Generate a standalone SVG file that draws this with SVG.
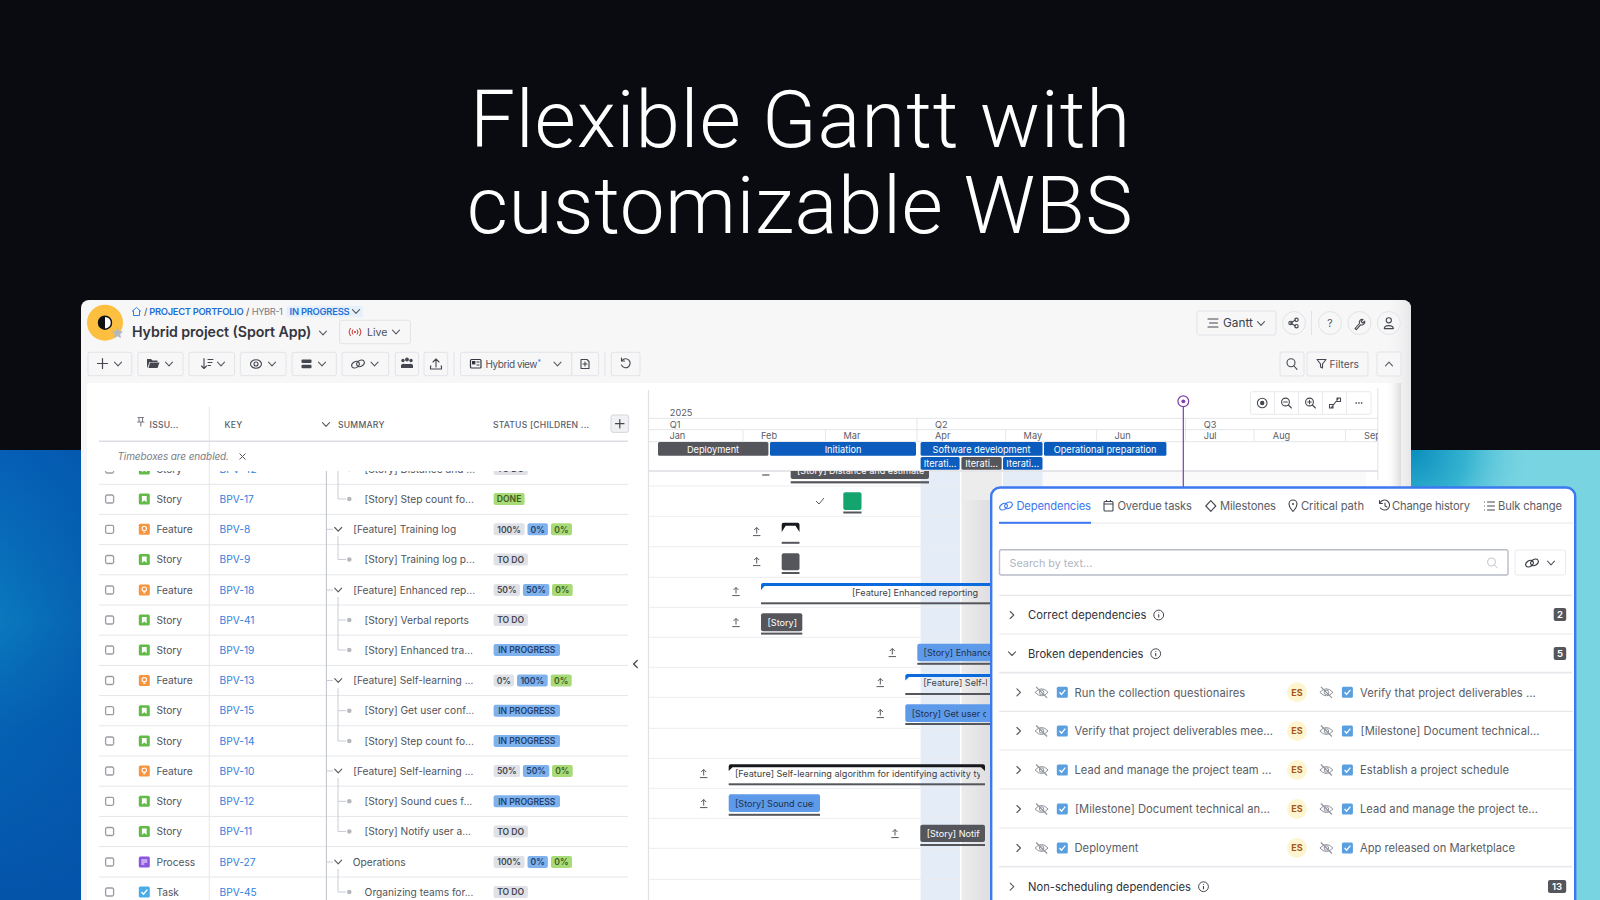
<svg xmlns="http://www.w3.org/2000/svg" width="1600" height="900" viewBox="0 0 1600 900" font-family="Inter, 'Liberation Sans', sans-serif">
<style>
text{font-family:Inter,'Liberation Sans',sans-serif}
.ic{fill:none;stroke:#44474f;stroke-width:1.1;stroke-linecap:round;stroke-linejoin:round}
.ltg{fill:none;stroke:#e4e6ea;stroke-width:1}
.btn{fill:#f7f7f8;stroke:#e1e3e7;stroke-width:1}
.h{font-size:8.6px;fill:#5a5d66;font-weight:500;letter-spacing:.25px}
.r{font-size:10.2px;fill:#50535c}
.k{font-size:10.2px;fill:#2f80e0}
.s{font-size:10.2px;fill:#50535c}
.bt{font-size:8.6px;font-weight:600;text-anchor:middle}
.g{fill:#dfe1e6}.gt{fill:#44474f}
.b{fill:#7fb2ec}.bb{fill:#1f3f6d}
.n{fill:#a9da78}.nt{fill:#3d5c22}
.m{font-size:9.2px;fill:#5a5d66}
.ph{font-size:9.2px;fill:#fff;text-anchor:middle}
.bar{font-size:9.1px;fill:#3c3f47}
.bar2{font-size:9.1px;fill:#22304a}
.bw{font-size:9.1px;fill:#fff}
.ul{fill:#55565c}
.tab{font-size:11.2px;fill:#5a5d66}
.dr{font-size:11.2px;fill:#5a5d66}
.dh{font-size:11.2px;fill:#2f323a}
.es{font-size:9px;font-weight:700;fill:#a8551c;text-anchor:middle}
.pl{fill:none;stroke:#e6e8ec;stroke-width:1.2}
.ttl{font-family:Roboto,sans-serif;font-size:80px;font-weight:300;fill:#fff;text-anchor:middle}
</style>
<defs>
<linearGradient id="lg" x1="0" y1="450" x2="0" y2="900" gradientUnits="userSpaceOnUse"><stop offset="0" stop-color="#055fb5"/><stop offset=".38" stop-color="#0a78be"/><stop offset=".62" stop-color="#0561b3"/><stop offset="1" stop-color="#0454aa"/></linearGradient>
<linearGradient id="lg2" x1="0" y1="0" x2="81" y2="0" gradientUnits="userSpaceOnUse"><stop offset="0" stop-color="#0454aa" stop-opacity="0"/><stop offset="1" stop-color="#0454aa" stop-opacity=".55"/></linearGradient>
<radialGradient id="rg" cx="1411" cy="450" r="125" gradientUnits="userSpaceOnUse"><stop offset="0" stop-color="#0a8dbd"/><stop offset=".45" stop-color="#35b3d0"/><stop offset="1" stop-color="#79d4e2" stop-opacity="0"/></radialGradient>
<linearGradient id="sh" x1="0" y1="0" x2="1" y2="0"><stop offset="0" stop-color="#fff" stop-opacity="0"/><stop offset="1" stop-color="#dcdcde"/></linearGradient>
<linearGradient id="sh2" x1="0" y1="0" x2="1" y2="0"><stop offset="0" stop-color="#ececed"/><stop offset="1" stop-color="#dedee0"/></linearGradient>
<linearGradient id="sh3" x1="0" y1="0" x2="1" y2="0"><stop offset="0" stop-color="#f7f7f8" stop-opacity="0"/><stop offset="1" stop-color="#e6e6e8"/></linearGradient>
<clipPath id="cr"><rect x="88" y="471" width="555" height="429"/></clipPath>
<clipPath id="cg"><rect x="650" y="471" width="730" height="429"/></clipPath>
<clipPath id="chd"><rect x="650" y="380" width="728" height="100"/></clipPath>
<clipPath id="c1"><rect x="917" y="640" width="73" height="25"/></clipPath>
<clipPath id="c2"><rect x="905" y="670" width="82" height="25"/></clipPath>
<clipPath id="c3"><rect x="905" y="700" width="81" height="25"/></clipPath>
<clipPath id="c4"><rect x="729" y="762" width="251" height="24"/></clipPath>
<clipPath id="c5"><rect x="729" y="792" width="85" height="24"/></clipPath>
<clipPath id="c6"><rect x="920" y="822" width="60" height="24"/></clipPath>
<clipPath id="c7"><rect x="791" y="471" width="138" height="12"/></clipPath>
<path id="ch" d="M-3.5-1.8L0 1.8L3.5-1.8" fill="none" stroke="#55585f" stroke-width="1.1" stroke-linecap="round" stroke-linejoin="round"/>
<path id="cr2" d="M-1.8-3.5L1.8 0L-1.8 3.5" fill="none" stroke="#55585f" stroke-width="1.1" stroke-linecap="round" stroke-linejoin="round"/>
<path id="cl" d="M1.8-3.5L-1.8 0L1.8 3.5" fill="none" stroke="#44474f" stroke-width="1.3" stroke-linecap="round" stroke-linejoin="round"/>
<rect id="cb" x="-4" y="-4" width="8" height="8" rx="1.5" fill="#fff" stroke="#9a9da6" stroke-width="1.3"/>
<g id="ist"><rect x="-5.5" y="-5.5" width="11" height="11" rx="1.5" fill="#62bb46"/><path d="M-2.4-3h4.8v6.2L0 1.6l-2.4 1.6z" fill="#fff"/></g>
<g id="ife"><rect x="-5.5" y="-5.5" width="11" height="11" rx="1.5" fill="#f7953f"/><circle cy="-.8" r="2.2" fill="none" stroke="#fff" stroke-width="1.1"/><path d="M-1 2.8h2" stroke="#fff" stroke-width="1.1"/></g>
<g id="ipr"><rect x="-5.5" y="-5.5" width="11" height="11" rx="1.5" fill="#8b55e0"/><path d="M-3-2h6M-3 0h6M-3 2h3" stroke="#fff" stroke-width="1"/></g>
<g id="ita"><rect x="-5.5" y="-5.5" width="11" height="11" rx="1.5" fill="#4bade8"/><path d="M-2.8 0L-.8 2.2L3-2.4" fill="none" stroke="#fff" stroke-width="1.4"/></g>
<circle id="dot" r="2.3" fill="#b5b8bf"/>
<path id="up" d="M0-3.5V2.5M-2.5-1L0-3.5L2.5-1M-3.7 4.6H3.7" fill="none" stroke="#55585f" stroke-width="1"/>
<g id="eye"><path d="M-6.5 0Q0-7 6.5 0Q0 7-6.5 0z" fill="none" stroke="#8f929b" stroke-width="1"/><circle r="2.2" fill="none" stroke="#8f929b" stroke-width="1"/><path d="M-5.5-5.5L5.5 5.5" stroke="#8f929b" stroke-width="1.2"/></g>
<g id="chk"><rect x="-5.5" y="-5.5" width="11" height="11" rx="1.5" fill="#5a9fe0"/><path d="M-2.8 0L-.8 2.2L3-2.4" fill="none" stroke="#fff" stroke-width="1.3"/></g>
<g id="inf"><circle r="4.9" fill="none" stroke="#44474f" stroke-width="1"/><path d="M0-.8V2.6M0-2.6v.6" stroke="#44474f" stroke-width="1.1"/></g>
<g id="lnk"><ellipse cx="-2.5" cy=".7" rx="4.1" ry="2.9" transform="rotate(-35 -2.5 .7)" fill="none" stroke="currentColor" stroke-width="1.1"/><ellipse cx="2.5" cy="-.7" rx="4.1" ry="2.9" transform="rotate(-35 2.5 -.7)" fill="none" stroke="currentColor" stroke-width="1.1"/></g>
</defs>

<g id="background">
<rect width="1600" height="900" fill="#090b11"/>
<rect y="450" width="81" height="450" fill="url(#lg)"/>
<rect y="450" width="81" height="450" fill="url(#lg2)"/>
<rect x="1411" y="450" width="189" height="450" fill="#79d4e2"/>
<rect x="1411" y="450" width="189" height="200" fill="url(#rg)"/>
</g>

<g id="title">
<text class="ttl" x="800.5" y="147" letter-spacing=".85">Flexible Gantt with</text>
<text class="ttl" x="800" y="232.5" letter-spacing=".55">customizable WBS</text>
</g>

<g id="window">
<path d="M81 900V308a8 8 0 0 1 8-8H1403a8 8 0 0 1 8 8V900z" fill="#f7f7f8"/>
<path d="M1385 300H1403a8 8 0 0 1 8 8V900H1385z" fill="url(#sh3)"/>
<rect x="87" y="383" width="1314" height="530" rx="3" fill="#fff"/>
<rect x="1385" y="383" width="16" height="517" fill="url(#sh)"/>
</g>

<g id="header">
<circle cx="105" cy="322.7" r="18" fill="#fcbf3f"/>
<circle cx="105" cy="322.7" r="6.5" fill="#fff" stroke="#111" stroke-width="1.4"/>
<path d="M105 316.2a6.5 6.5 0 0 0 0 13z" fill="#111"/>
<path d="M117.5 327.5l1.7 3.6 3.9.5-2.9 2.7.8 3.9-3.5-2-3.5 2 .8-3.9-2.9-2.7 3.9-.5z" fill="#b5b8bf"/>
<path d="M132 311.5l4.5-4 4.5 4M133.5 310.5v5h6v-5" fill="none" stroke="#2f80e0" stroke-width="1"/>
<text x="144" y="314.5" font-size="9.4" fill="#44474f">/</text>
<text x="149.3" y="314.5" font-size="9.4" font-weight="600" fill="#1d6fd6" textLength="94.3">PROJECT PORTFOLIO</text>
<text x="246" y="314.5" font-size="9.4" fill="#44474f">/</text>
<text x="251.8" y="314.5" font-size="9.4" fill="#7a7d86" textLength="31">HYBR-1</text>
<rect x="286.4" y="305.7" width="76.5" height="11.6" rx="2" fill="#e6f0fb"/>
<text x="289.6" y="314.5" font-size="9.4" font-weight="600" fill="#1d6fd6" textLength="60">IN PROGRESS</text>
<use href="#ch" x="356" y="311.5" style="stroke:#1d6fd6"/>
<text x="132" y="337.3" font-size="14.2" font-weight="600" fill="#33363e" textLength="179.4">Hybrid project (Sport App)</text>
<use href="#ch" x="323" y="333"/>
<rect class="btn" x="339.6" y="320.3" width="70.8" height="23.4" rx="2"/>
<path d="M353 329.5q-2 2.5 0 5M357 329.5q2 2.5 0 5M350.5 328q-3 4 0 8M359.5 328q3 4 0 8" fill="none" stroke="#c8332f" stroke-width="1"/>
<circle cx="355" cy="332" r="1" fill="#c8332f"/>
<text x="367" y="336" font-size="10.6" fill="#50535c">Live</text>
<use href="#ch" x="396" y="332"/>
<rect class="btn" x="1197" y="311" width="79" height="24" rx="2"/>
<path class="ic" d="M1208 319h10M1209.5 323h8M1208 327h10"/>
<text x="1223" y="327" font-size="11.8" fill="#3c3f47">Gantt</text>
<use href="#ch" x="1261" y="323.5"/>
<circle class="btn" cx="1294" cy="323" r="11.5"/>
<path class="ic" d="M1290.5 323l5-3M1290.5 323l5 3"/><circle class="ic" cx="1290.5" cy="323" r="1.7"/><circle class="ic" cx="1296.5" cy="319.8" r="1.7"/><circle class="ic" cx="1296.5" cy="326.2" r="1.7"/>
<path d="M1311.5 311v24" stroke="#e1e3e7"/>
<circle class="btn" cx="1330" cy="323" r="11.5"/><text x="1330" y="327" font-size="10.5" fill="#50535c" text-anchor="middle">?</text>
<circle class="btn" cx="1359.4" cy="323" r="11.5"/><path class="ic" d="M1355 328.5l4.5-5a3 3 0 0 1 3.5-4l-1.8 2 1.5 1.5 2-1.8a3 3 0 0 1-4 3.5l-4.3 5z"/>
<circle class="btn" cx="1388.8" cy="323" r="11.5"/><circle class="ic" cx="1388.8" cy="320.3" r="2.6"/><path class="ic" d="M1384.3 328.6q0-3 4.5-3t4.5 3z"/>
</g>

<g id="toolbar">
<rect class="btn" x="88" y="352.3" width="43.8" height="23.4" rx="2"/><path class="ic" d="M102.5 358.5v10M97.5 363.5h10" style="stroke-width:1.2"/><use href="#ch" x="118" y="364"/>
<rect class="btn" x="137.9" y="352.3" width="45.1" height="23.4" rx="2"/><path d="M147 359h4l1.5 1.5h5v1.5h-8l-2 5.5h-.5z" fill="#44474f"/><path d="M150 362.5h9.5l-2 5.5h-9z" fill="#44474f"/><use href="#ch" x="169" y="364"/>
<rect class="btn" x="189" y="352.3" width="45.6" height="23.4" rx="2"/><path class="ic" d="M204 358.5v10M201.5 366l2.5 2.5 2.5-2.5M208 359.5h5M208 362.5h4M208 365.5h2.5"/><use href="#ch" x="221" y="364"/>
<rect class="btn" x="240.4" y="352.3" width="45.6" height="23.4" rx="2"/><ellipse class="ic" cx="256" cy="364" rx="5.5" ry="4.2"/><circle class="ic" cx="256" cy="364" r="2"/><use href="#ch" x="272" y="364"/>
<rect class="btn" x="292" y="352.3" width="44.4" height="23.4" rx="2"/><rect x="301.5" y="359.5" width="10" height="3.6" rx="1" fill="#44474f"/><rect x="301.5" y="364.7" width="10" height="3.6" rx="1" fill="#44474f"/><use href="#ch" x="322" y="364"/>
<rect class="btn" x="342" y="352.3" width="46.6" height="23.4" rx="2"/><use href="#lnk" x="358" y="364" color="#44474f"/><use href="#ch" x="374.5" y="364"/>
<rect class="btn" x="395.4" y="352.3" width="23.2" height="23.4" rx="2"/><circle cx="403" cy="360.5" r="1.7" fill="#44474f"/><circle cx="407" cy="359.5" r="1.9" fill="#44474f"/><circle cx="411" cy="360.5" r="1.7" fill="#44474f"/><path d="M401 368v-3q2-2 4-1h4q2-1 4 1v3z" fill="#44474f"/>
<rect class="btn" x="424" y="352.3" width="23.7" height="23.4" rx="2"/><path class="ic" d="M436 367v-7.5M433 362l3-3 3 3M431 366h-.5v3h11v-3h-.5"/>
<path d="M454 352v24M605 352v24" stroke="#e1e3e7"/>
<rect class="btn" x="460.4" y="352.3" width="111.4" height="23.4" rx="2"/>
<rect x="470.5" y="359.5" width="10.5" height="8.5" rx="1" fill="none" stroke="#33363e" stroke-width="1.2"/><rect x="472" y="361" width="3.4" height="3.4" fill="#33363e"/><path d="M476.5 362h3M476.5 365h3" stroke="#33363e"/>
<text x="485.5" y="367.5" font-size="10" fill="#50535c" textLength="52">Hybrid view</text>
<text x="537.5" y="365" font-size="7" fill="#2f80e0">*</text>
<use href="#ch" x="557.5" y="364"/>
<rect class="btn" x="571.8" y="352.3" width="26.8" height="23.4" rx="2"/><path class="ic" d="M581 359.5h6l2 2v7h-8z"/><path class="ic" d="M585 362v4M583 364h4"/>
<rect class="btn" x="611.4" y="352.3" width="28.6" height="23.4" rx="2"/><path class="ic" d="M622 360.5a4.5 4.5 0 1 1-.5 4.5M621.5 358v3h3"/>
<rect class="btn" x="1280" y="352" width="24" height="24" rx="2"/><circle class="ic" cx="1291" cy="362.8" r="4"/><path class="ic" d="M1294 366l3 3.4"/>
<rect class="btn" x="1307" y="352" width="61" height="24" rx="2"/><path class="ic" d="M1317 359.5h9l-3.5 4.5v4l-2 -1v-3z"/><text x="1329.5" y="367.5" font-size="10.2" fill="#50535c">Filters</text>
<rect class="btn" x="1377" y="352" width="24" height="24" rx="2"/><use href="#ch" x="1389" y="364" transform="rotate(180 1389 364)"/>
</g>

<g id="table-head">
<path class="ic" d="M138 417.5h5.5M139 417.5v4.5h3.5v-4.5M137.5 422h6.5M140.8 422v4" style="stroke:#7a7d86"/>
<text class="h" x="149.6" y="427.6">ISSU...</text>
<path d="M209.3 407v493" stroke="#e4e6ea"/>
<text class="h" x="224.6" y="427.6">KEY</text>
<use href="#ch" x="326" y="424.5"/>
<text class="h" x="337.9" y="427.6">SUMMARY</text>
<text class="h" x="492.9" y="427.6" textLength="96.4">STATUS [CHILDREN ...</text>
<rect x="611" y="415" width="17.6" height="17.4" rx="2" fill="#f0f1f3" stroke="#d5d7dc"/>
<path class="ic" d="M619.8 419.5v8.5M615.5 423.7h8.5" style="stroke-width:1.2"/>
<path d="M99 441.3H628" stroke="#dcdee3" stroke-width="1.4"/>
<text x="117.5" y="460" font-size="10" font-style="italic" fill="#7a7d86" textLength="111.5">Timeboxes are enabled.</text>
<path d="M239.5 453.5l6 6M245.5 453.5l-6 6" stroke="#55585f" stroke-width="1"/>
<use href="#cl" x="635.4" y="664"/>
</g>

<g id="rows" clip-path="url(#cr)">
<path class="ltg" d="M99 484.3H628M99 514.4H628M99 544.6H628M99 574.8H628M99 605H628M99 635.2H628M99 665.4H628M99 695.6H628M99 725.8H628M99 756H628M99 786.2H628M99 816.4H628M99 846.6H628M99 877H628"/>
<path d="M326.4 470V900" stroke="#c4c7ce" stroke-width="1.1"/>
<g id="connectors" fill="none" stroke="#c9ccd2" stroke-width="1">
<path d="M338 470V499H346M338 536V559.5H346M338 597V650H346M338 620H346M338 688V741H346M338 710.7H346M338 778V831.5H346M338 801.3H346M338 869V892H346M338 468.7H346"/>
<path d="M326.4 529.3H333M326.4 590H333M326.4 680.5H333M326.4 771H333M326.4 862H333"/>
</g>

<g id="bpv-42" transform="translate(0,469)"><use href="#cb" x="109.6"/><use href="#ist" x="144.3"/><text class="r" x="156.4" y="3.7">Story</text><text class="k" x="219.6" y="3.7">BPV-42</text><use href="#dot" x="349.3"/><text class="s" x="364.6" y="3.7">[Story] Distance and ...</text><rect class="g" x="493.6" y="-6" width="34.3" height="12" rx="2"/><text class="bt gt" x="510.7" y="3.2">TO DO</text></g>

<g id="bpv-17" transform="translate(0,499)"><use href="#cb" x="109.6"/><use href="#ist" x="144.3"/><text class="r" x="156.4" y="3.7">Story</text><text class="k" x="219.6" y="3.7">BPV-17</text><use href="#dot" x="349.3"/><text class="s" x="364.6" y="3.7">[Story] Step count fo...</text><rect class="n" x="493.6" y="-6" width="31" height="12" rx="2"/><text class="bt nt" x="509.1" y="3.2">DONE</text></g>

<g id="bpv-8" transform="translate(0,529.3)"><use href="#cb" x="109.6"/><use href="#ife" x="144.3"/><text class="r" x="156.4" y="3.7">Feature</text><text class="k" x="219.6" y="3.7">BPV-8</text><use href="#ch" x="338.2"/><text class="s" x="353.2" y="3.7">[Feature] Training log</text><rect class="g" x="493.6" y="-6" width="31" height="12" rx="2"/><text class="bt gt" x="509.1" y="3.2">100%</text><rect class="b" x="527.5" y="-6" width="20.4" height="12" rx="2"/><text class="bt bb" x="537.7" y="3.2">0%</text><rect class="n" x="551" y="-6" width="21" height="12" rx="2"/><text class="bt nt" x="561.5" y="3.2">0%</text></g>

<g id="bpv-9" transform="translate(0,559.5)"><use href="#cb" x="109.6"/><use href="#ist" x="144.3"/><text class="r" x="156.4" y="3.7">Story</text><text class="k" x="219.6" y="3.7">BPV-9</text><use href="#dot" x="349.3"/><text class="s" x="364.6" y="3.7">[Story] Training log p...</text><rect class="g" x="493.6" y="-6" width="34.3" height="12" rx="2"/><text class="bt gt" x="510.7" y="3.2">TO DO</text></g>

<g id="bpv-18" transform="translate(0,590)"><use href="#cb" x="109.6"/><use href="#ife" x="144.3"/><text class="r" x="156.4" y="3.7">Feature</text><text class="k" x="219.6" y="3.7">BPV-18</text><use href="#ch" x="338.2"/><text class="s" x="353.2" y="3.7">[Feature] Enhanced rep...</text><rect class="g" x="493.6" y="-6" width="26.4" height="12" rx="2"/><text class="bt gt" x="506.8" y="3.2">50%</text><rect class="b" x="522.9" y="-6" width="26.4" height="12" rx="2"/><text class="bt bb" x="536.1" y="3.2">50%</text><rect class="n" x="552" y="-6" width="20.7" height="12" rx="2"/><text class="bt nt" x="562.3" y="3.2">0%</text></g>

<g id="bpv-41" transform="translate(0,620)"><use href="#cb" x="109.6"/><use href="#ist" x="144.3"/><text class="r" x="156.4" y="3.7">Story</text><text class="k" x="219.6" y="3.7">BPV-41</text><use href="#dot" x="349.3"/><text class="s" x="364.6" y="3.7">[Story] Verbal reports</text><rect class="g" x="493.6" y="-6" width="34.3" height="12" rx="2"/><text class="bt gt" x="510.7" y="3.2">TO DO</text></g>

<g id="bpv-19" transform="translate(0,650)"><use href="#cb" x="109.6"/><use href="#ist" x="144.3"/><text class="r" x="156.4" y="3.7">Story</text><text class="k" x="219.6" y="3.7">BPV-19</text><use href="#dot" x="349.3"/><text class="s" x="364.6" y="3.7">[Story] Enhanced tra...</text><rect class="b" x="493.6" y="-6" width="66.4" height="12" rx="2"/><text class="bt bb" x="526.8" y="3.2">IN PROGRESS</text></g>

<g id="bpv-13" transform="translate(0,680.5)"><use href="#cb" x="109.6"/><use href="#ife" x="144.3"/><text class="r" x="156.4" y="3.7">Feature</text><text class="k" x="219.6" y="3.7">BPV-13</text><use href="#ch" x="338.2"/><text class="s" x="353.2" y="3.7">[Feature] Self-learning ...</text><rect class="g" x="493.6" y="-6" width="20.4" height="12" rx="2"/><text class="bt gt" x="503.8" y="3.2">0%</text><rect class="b" x="517" y="-6" width="30.7" height="12" rx="2"/><text class="bt bb" x="532.3" y="3.2">100%</text><rect class="n" x="550.7" y="-6" width="21" height="12" rx="2"/><text class="bt nt" x="561.2" y="3.2">0%</text></g>

<g id="bpv-15" transform="translate(0,710.7)"><use href="#cb" x="109.6"/><use href="#ist" x="144.3"/><text class="r" x="156.4" y="3.7">Story</text><text class="k" x="219.6" y="3.7">BPV-15</text><use href="#dot" x="349.3"/><text class="s" x="364.6" y="3.7">[Story] Get user conf...</text><rect class="b" x="493.6" y="-6" width="66.4" height="12" rx="2"/><text class="bt bb" x="526.8" y="3.2">IN PROGRESS</text></g>

<g id="bpv-14" transform="translate(0,741)"><use href="#cb" x="109.6"/><use href="#ist" x="144.3"/><text class="r" x="156.4" y="3.7">Story</text><text class="k" x="219.6" y="3.7">BPV-14</text><use href="#dot" x="349.3"/><text class="s" x="364.6" y="3.7">[Story] Step count fo...</text><rect class="b" x="493.6" y="-6" width="66.4" height="12" rx="2"/><text class="bt bb" x="526.8" y="3.2">IN PROGRESS</text></g>

<g id="bpv-10" transform="translate(0,771)"><use href="#cb" x="109.6"/><use href="#ife" x="144.3"/><text class="r" x="156.4" y="3.7">Feature</text><text class="k" x="219.6" y="3.7">BPV-10</text><use href="#ch" x="338.2"/><text class="s" x="353.2" y="3.7">[Feature] Self-learning ...</text><rect class="g" x="493.6" y="-6" width="26.4" height="12" rx="2"/><text class="bt gt" x="506.8" y="3.2">50%</text><rect class="b" x="522.9" y="-6" width="26.4" height="12" rx="2"/><text class="bt bb" x="536.1" y="3.2">50%</text><rect class="n" x="552" y="-6" width="20.7" height="12" rx="2"/><text class="bt nt" x="562.3" y="3.2">0%</text></g>

<g id="bpv-12" transform="translate(0,801.3)"><use href="#cb" x="109.6"/><use href="#ist" x="144.3"/><text class="r" x="156.4" y="3.7">Story</text><text class="k" x="219.6" y="3.7">BPV-12</text><use href="#dot" x="349.3"/><text class="s" x="364.6" y="3.7">[Story] Sound cues f...</text><rect class="b" x="493.6" y="-6" width="66.4" height="12" rx="2"/><text class="bt bb" x="526.8" y="3.2">IN PROGRESS</text></g>

<g id="bpv-11" transform="translate(0,831.5)"><use href="#cb" x="109.6"/><use href="#ist" x="144.3"/><text class="r" x="156.4" y="3.7">Story</text><text class="k" x="219.6" y="3.7">BPV-11</text><use href="#dot" x="349.3"/><text class="s" x="364.6" y="3.7">[Story] Notify user a...</text><rect class="g" x="493.6" y="-6" width="34.3" height="12" rx="2"/><text class="bt gt" x="510.7" y="3.2">TO DO</text></g>

<g id="bpv-27" transform="translate(0,862)"><use href="#cb" x="109.6"/><use href="#ipr" x="144.3"/><text class="r" x="156.4" y="3.7">Process</text><text class="k" x="219.6" y="3.7">BPV-27</text><use href="#ch" x="338.2"/><text class="s" x="352.8" y="3.7">Operations</text><rect class="g" x="493.6" y="-6" width="31" height="12" rx="2"/><text class="bt gt" x="509.1" y="3.2">100%</text><rect class="b" x="527.5" y="-6" width="20.4" height="12" rx="2"/><text class="bt bb" x="537.7" y="3.2">0%</text><rect class="n" x="551" y="-6" width="21" height="12" rx="2"/><text class="bt nt" x="561.5" y="3.2">0%</text></g>

<g id="bpv-45" transform="translate(0,892)"><use href="#cb" x="109.6"/><use href="#ita" x="144.3"/><text class="r" x="156.4" y="3.7">Task</text><text class="k" x="219.6" y="3.7">BPV-45</text><use href="#dot" x="349.3"/><text class="s" x="364.6" y="3.7">Organizing teams for...</text><rect class="g" x="493.6" y="-6" width="34.3" height="12" rx="2"/><text class="bt gt" x="510.7" y="3.2">TO DO</text></g>
</g>

<g id="gantt-head">
<path d="M648.5 390V900" stroke="#dfe1e5" stroke-width="1.2"/>
<path d="M1377.8 388V480" stroke="#e4e6ea" stroke-width="1.2"/>
<path d="M649 418.3H1378M649 429.7H1378M649 441.7H1378" stroke="#e4e6ea"/>
<path d="M743 430V441M825.6 430V441M917 418V441M1005.7 430V441M1096.7 430V441M1185.6 418V441M1254 430V441M1345.5 430V441" stroke="#e4e6ea"/>
<g clip-path="url(#chd)">
<text class="m" x="669.8" y="416.2">2025</text>
<text class="m" x="669.8" y="427.5">Q1</text><text class="m" x="935" y="427.5">Q2</text><text class="m" x="1203.7" y="427.5">Q3</text>
<text class="m" x="669.4" y="438.9">Jan</text><text class="m" x="761" y="438.9">Feb</text><text class="m" x="843.5" y="438.9">Mar</text><text class="m" x="935" y="438.9">Apr</text><text class="m" x="1023.6" y="438.9">May</text><text class="m" x="1114.6" y="438.9">Jun</text><text class="m" x="1203.7" y="438.9">Jul</text><text class="m" x="1272.8" y="438.9">Aug</text><text class="m" x="1364" y="438.9">Sep</text>
</g>
<rect x="658" y="442" width="110.4" height="13.7" rx="1.5" fill="#55565c"/><text class="ph" x="713" y="452.7">Deployment</text>
<rect x="770" y="442" width="146" height="13.7" rx="1.5" fill="#0b5cbc"/><text class="ph" x="843" y="452.7">Initiation</text>
<rect x="920.6" y="442" width="121.9" height="13.7" rx="1.5" fill="#0b5cbc"/><text class="ph" x="981.5" y="452.7">Software development</text>
<rect x="1044" y="442" width="122.4" height="13.7" rx="1.5" fill="#0b5cbc"/><text class="ph" x="1105" y="452.7">Operational preparation</text>
<rect x="920.6" y="457" width="39" height="12.7" rx="1.5" fill="#0b5cbc"/><text class="ph" x="940" y="466.8">Iterati...</text>
<rect x="961.4" y="457" width="40.3" height="12.7" rx="1.5" fill="#55565c"/><text class="ph" x="981.5" y="466.8">Iterati...</text>
<rect x="1003" y="457" width="39.5" height="12.7" rx="1.5" fill="#0b5cbc"/><text class="ph" x="1022.7" y="466.8">Iterati...</text>
<path d="M649 471H1378" stroke="#dcdee3" stroke-width="1.6"/>
</g>

<g id="gantt-body">
<rect x="1042.5" y="472" width="323.5" height="30" fill="#fafafa"/>
<rect x="920.6" y="472" width="39.4" height="428" fill="#e4ecf7"/>
<rect x="961.4" y="472" width="40.3" height="30" fill="#ececed"/>
<rect x="961.4" y="500" width="30" height="400" fill="url(#sh2)"/>
<rect x="1003" y="472" width="39.5" height="30" fill="#e4ecf7"/>
<path class="ltg" d="M649 486H960M649 516.3H960M649 546.7H960M649 577.3H960M649 607.3H960M649 637.3H960M649 667.3H960M649 697.3H960M649 728.3H960M649 758.3H960M649 788.3H960M649 818.3H960M649 848.3H960M649 879.3H960" style="stroke:#ecedf0"/>
<g clip-path="url(#cg)">
<path d="M762 475h7.5" stroke="#55585f" stroke-width="1.2"/>
<rect x="790.7" y="461" width="138.3" height="18" rx="2" fill="#55565c"/>
<text class="bw" x="797" y="474" clip-path="url(#c7)">[Story] Distance and estimate</text>
<rect class="ul" x="790.7" y="481.2" width="138.3" height="2.2"/>
<path d="M816 501l3 3 5-6" fill="none" stroke="#55585f" stroke-width="1"/>
<rect x="843.3" y="492.3" width="18.2" height="17.7" rx="2" fill="#14a56f"/><rect class="ul" x="843.3" y="511.5" width="18.2" height="2"/>
<use href="#up" x="756.7" y="531"/>
<path d="M781.7 532V524.7a2 2 0 0 1 2-2H797.5a2 2 0 0 1 2 2V532L795.5 525.8H785.7z" fill="#17181c"/><rect class="ul" x="781.7" y="541.8" width="17.8" height="2"/>
<use href="#up" x="756.7" y="561"/>
<rect x="781.7" y="553.3" width="17.8" height="17" rx="2" fill="#55565c"/><rect class="ul" x="781.7" y="572" width="17.8" height="2"/>
<use href="#up" x="736" y="591"/>
<path d="M761 590V585a2 2 0 0 1 2-2H991V586H764.5z" fill="#0b6bdc"/>
<text class="bar" x="852" y="596">[Feature] Enhanced reporting</text>
<rect class="ul" x="761" y="602.3" width="230" height="2"/>
<use href="#up" x="736" y="622"/>
<rect x="761" y="613.3" width="41.3" height="18" rx="2" fill="#55565c"/><text class="bw" x="767.5" y="626">[Story]</text><rect class="ul" x="761" y="632.6" width="41.3" height="2"/>
<use href="#up" x="892.3" y="652"/>
<rect x="917.3" y="643.7" width="74" height="17.6" rx="2" fill="#5d9bea"/><text class="bar2" x="923.6" y="656" clip-path="url(#c1)">[Story] Enhanced</text><rect class="ul" x="917.3" y="662.8" width="74" height="2"/>
<use href="#up" x="880.3" y="682"/>
<path d="M905.3 680.5V676a2 2 0 0 1 2-2H991V677H909z" fill="#0b6bdc"/>
<text class="bar" x="923.3" y="686" clip-path="url(#c2)">[Feature] Self-learning</text><rect class="ul" x="905.3" y="693" width="86" height="2"/>
<use href="#up" x="880.3" y="713"/>
<rect x="905.3" y="704.3" width="86" height="17.7" rx="2" fill="#5d9bea"/><text class="bar2" x="911.7" y="717" clip-path="url(#c3)">[Story] Get user conf</text><rect class="ul" x="905.3" y="723" width="86" height="2"/>
<use href="#up" x="703.7" y="773"/>
<path d="M728.7 771V766.3a2 2 0 0 1 2-2H983a2 2 0 0 1 2 2V771L981 767.3H732.5z" fill="#17181c"/>
<text class="bar" x="735" y="777" clip-path="url(#c4)">[Feature] Self-learning algorithm for identifying activity types</text><rect class="ul" x="728.7" y="783.3" width="256.3" height="2"/>
<use href="#up" x="703.7" y="803"/>
<rect x="728.7" y="794.3" width="91.3" height="17.7" rx="2" fill="#5d9bea"/><text class="bar2" x="735" y="807" clip-path="url(#c5)">[Story] Sound cues for</text><rect class="ul" x="728.7" y="813.8" width="91.3" height="2"/>
<use href="#up" x="895" y="833"/>
<rect x="920.3" y="824.7" width="64.7" height="17.3" rx="2" fill="#55565c"/><text class="bw" x="926.7" y="837" clip-path="url(#c6)">[Story] Notify user</text><rect class="ul" x="920.3" y="844" width="64.7" height="2"/>
</g>
<path d="M1183.3 407V487" stroke="#7d3fa8" stroke-width="1.2"/>
<circle cx="1183.3" cy="401.3" r="5.4" fill="#fff" stroke="#7d3fa8" stroke-width="1.2"/><circle cx="1183.3" cy="401.3" r="1.9" fill="#7d3fa8"/>
<g id="zoom-controls">
<rect x="1250.4" y="391.7" width="120.6" height="22.6" rx="2" fill="#fff" stroke="#e8e9ec"/>
<path d="M1274.5 392V414M1298.5 392V414M1322.5 392V414M1346.5 392V414" stroke="#e8e9ec"/>
<circle class="ic" cx="1262.2" cy="403" r="4.8"/><circle cx="1262.2" cy="403" r="2.2" fill="#44474f"/>
<circle class="ic" cx="1285.5" cy="402" r="3.9"/><path class="ic" d="M1288.4 405l3 3M1283.7 402h3.6"/>
<circle class="ic" cx="1309.5" cy="402" r="3.9"/><path class="ic" d="M1312.4 405l3 3M1307.7 402h3.6M1309.5 400.2v3.6"/>
<path class="ic" d="M1331 408l7-9M1329.5 404.5h3.5v3.5h-3.5zM1337 398h3.5v3.5h-3.5z"/>
<path d="M1355.5 403h1.4M1358.2 403h1.4M1360.9 403h1.4" stroke="#44474f" stroke-width="1.4"/>
</g>
</g>

<g id="dependencies-panel">
<rect x="991.2" y="487.5" width="584" height="450" rx="9" fill="#fff" stroke="#3c78f0" stroke-width="2.4"/>
<g id="tabs">
<use href="#lnk" x="1006" y="506" color="#3c78f0"/>
<text class="tab" x="1016.4" y="510" style="fill:#3c78f0" textLength="74.6">Dependencies</text>
<rect x="1104" y="501.5" width="9" height="9.5" rx="1" fill="none" stroke="#44474f" stroke-width="1.1"/><path d="M1104 504h9M1106.5 500v2M1110.5 500v2" stroke="#44474f" stroke-width="1.1"/>
<text class="tab" x="1117.4" y="510" textLength="74.6">Overdue tasks</text>
<path class="ic" d="M1210.8 500.7l5 5.3-5 5.3-5-5.3z"/>
<text class="tab" x="1220" y="510" textLength="56">Milestones</text>
<path class="ic" d="M1293 511.5q-4-4.5-4-7.5a4 4 0 0 1 8 0q0 3-4 7.5z"/><circle cx="1293" cy="504" r="1" fill="#44474f"/>
<text class="tab" x="1301" y="510" textLength="63">Critical path</text>
<path class="ic" d="M1380 503a5 5 0 1 1 .5 5M1379.5 500.5v3h3M1385 503v3l2 1"/>
<text class="tab" x="1392" y="510" textLength="78">Change history</text>
<path class="ic" d="M1484.5 502h0M1484.5 506h0M1484.5 510h0M1487.5 502h7M1487.5 506h7M1487.5 510h7"/>
<text class="tab" x="1498" y="510" textLength="64">Bulk change</text>
<path d="M999 523H1573" stroke="#e6e8ec"/>
<rect x="999" y="521.8" width="92" height="2" fill="#3c78f0"/>
</g>
<g id="search">
<rect x="999.5" y="549.7" width="508.5" height="25.3" rx="2" fill="#fff" stroke="#b8bcc6" stroke-width="1.4"/>
<text x="1009.5" y="567" font-size="10.8" fill="#b0b5c0">Search by text...</text>
<circle cx="1491.5" cy="562" r="4" fill="none" stroke="#c3c6cd" stroke-width="1"/><path d="M1494.5 565l3 3.2" stroke="#c3c6cd"/>
<rect x="1515" y="550" width="50.6" height="25" rx="2" fill="#fff" stroke="#e8e9ec"/>
<use href="#lnk" x="1532" y="563" color="#33363e"/><use href="#ch" x="1551" y="563"/>
</g>
<path class="pl" d="M999 595.3H1572M999 634H1572"/>
<path d="M999 672.7H1572M999 866.7H1572" stroke="#e8e9ed" stroke-width="1.8"/>
<path class="pl" d="M999 711.3H1573M999 750H1573M999 789H1573M999 828H1573"/>
<g id="correct"><use href="#cr2" x="1012" y="615" style="stroke-width:1.2"/><text class="dh" x="1028" y="619" textLength="118.5">Correct dependencies</text><use href="#inf" x="1158.7" y="615"/><rect x="1553.7" y="608" width="12.5" height="13" rx="2" fill="#55565c"/><text x="1560" y="618" font-size="9.6" font-weight="600" fill="#fff" text-anchor="middle">2</text></g>
<g id="broken"><use href="#ch" x="1012" y="653.7" style="stroke-width:1.2"/><text class="dh" x="1028" y="657.7" textLength="115.5">Broken dependencies</text><use href="#inf" x="1155.7" y="653.7"/><rect x="1553.7" y="647" width="12.5" height="13" rx="2" fill="#55565c"/><text x="1560" y="657" font-size="9.6" font-weight="600" fill="#fff" text-anchor="middle">5</text></g>

<g id="dep-1" transform="translate(0,692.3)"><use href="#cr2" x="1018.7"/><use href="#eye" x="1041.6"/><use href="#chk" x="1062.3"/><text class="dr" x="1074.5" y="4.4" textLength="170.7">Run the collection questionaires</text><circle cx="1297" r="10" fill="#fdf5d0"/><text class="es" x="1297" y="3.2">ES</text><use href="#eye" x="1326.4"/><use href="#chk" x="1347.4"/><text class="dr" x="1360" y="4.4" textLength="175.7">Verify that project deliverables ...</text></g>
<g id="dep-2" transform="translate(0,731)"><use href="#cr2" x="1018.7"/><use href="#eye" x="1041.6"/><use href="#chk" x="1062.3"/><text class="dr" x="1074.5" y="4.4" textLength="198.5">Verify that project deliverables mee...</text><circle cx="1297" r="10" fill="#fdf5d0"/><text class="es" x="1297" y="3.2">ES</text><use href="#eye" x="1326.4"/><use href="#chk" x="1347.4"/><text class="dr" x="1360.5" y="4.4" textLength="179">[Milestone] Document technical...</text></g>
<g id="dep-3" transform="translate(0,770)"><use href="#cr2" x="1018.7"/><use href="#eye" x="1041.6"/><use href="#chk" x="1062.3"/><text class="dr" x="1074.5" y="4.4" textLength="197">Lead and manage the project team ...</text><circle cx="1297" r="10" fill="#fdf5d0"/><text class="es" x="1297" y="3.2">ES</text><use href="#eye" x="1326.4"/><use href="#chk" x="1347.4"/><text class="dr" x="1360" y="4.4" textLength="149">Establish a project schedule</text></g>
<g id="dep-4" transform="translate(0,809)"><use href="#cr2" x="1018.7"/><use href="#eye" x="1041.6"/><use href="#chk" x="1062.3"/><text class="dr" x="1075" y="4.4" textLength="195">[Milestone] Document technical an...</text><circle cx="1297" r="10" fill="#fdf5d0"/><text class="es" x="1297" y="3.2">ES</text><use href="#eye" x="1326.4"/><use href="#chk" x="1347.4"/><text class="dr" x="1360" y="4.4" textLength="178">Lead and manage the project te...</text></g>
<g id="dep-5" transform="translate(0,848)"><use href="#cr2" x="1018.7"/><use href="#eye" x="1041.6"/><use href="#chk" x="1062.3"/><text class="dr" x="1074.5" y="4.4" textLength="64">Deployment</text><circle cx="1297" r="10" fill="#fdf5d0"/><text class="es" x="1297" y="3.2">ES</text><use href="#eye" x="1326.4"/><use href="#chk" x="1347.4"/><text class="dr" x="1360" y="4.4" textLength="155">App released on Marketplace</text></g>
<g id="nonsched"><use href="#cr2" x="1012" y="886.7" style="stroke-width:1.2"/><text class="dh" x="1028" y="890.7" textLength="163">Non-scheduling dependencies</text><use href="#inf" x="1203.5" y="886.7"/><rect x="1548" y="880" width="18.2" height="13" rx="2" fill="#55565c"/><text x="1557" y="890" font-size="9.6" font-weight="600" fill="#fff" text-anchor="middle">13</text></g>
</g>
</svg>
